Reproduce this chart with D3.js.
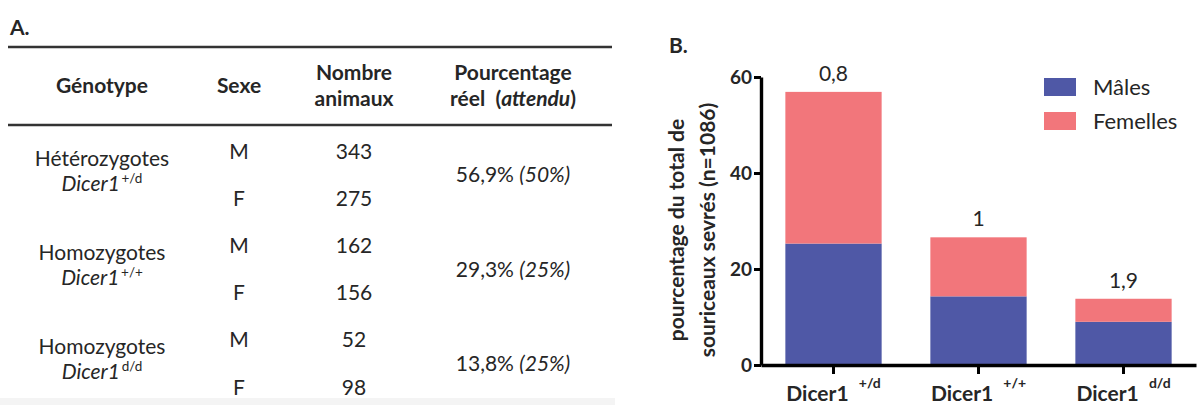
<!DOCTYPE html>
<html>
<head>
<meta charset="utf-8">
<script src="https://cdn.jsdelivr.net/npm/d3@7"></script>
<style>
  html, body { margin: 0; padding: 0; background: #fff; }
  svg { display: block; }
  text { font-family: Lato, "Open Sans", sans-serif; fill: #262626; }
</style>
</head>
<body>
<svg id="fig" width="1197" height="405"></svg>
<script>
// ---------- Data: table (panel A) ----------
const tableHeaders = ["Génotype", "Sexe", "Nombre|animaux", "Pourcentage|réel (attendu)"];
const genotypeNames = ["Hétérozygotes", "Homozygotes", "Homozygotes"];
const genotypeSup = ["+/d", "+/+", "d/d"];
const sexes = ["M", "F", "M", "F", "M", "F"];
const counts = [343, 275, 162, 156, 52, 98];
const observedPct = ["56,9%", "29,3%", "13,8%"];
const expectedPct = ["(50%)", "(25%)", "(25%)"];

// ---------- Data: chart (panel B) ----------
const categories = ["+/d", "+/+", "d/d"];
const males = [25.3, 14.3, 9.0];
const females = [31.6, 12.3, 4.8];
const ratioLabels = ["0,8", "1", "1,9"];
const yTicks = [0, 20, 40, 60];
const seriesNames = ["Mâles", "Femelles"];
const seriesColors = ["#4f58a6", "#f2767b"];

const svg = d3.select("#fig");

// =============== Panel A: table ===============
const A = svg.append("g");
A.append("text").attr("x", 10).attr("y", 35).attr("font-size", 21).attr("font-weight", 700).attr("fill", "#111").text("A.");

A.append("line").attr("x1", 8).attr("x2", 612).attr("y1", 47).attr("y2", 47)
  .attr("stroke", "#333").attr("stroke-width", 2.5);
A.append("line").attr("x1", 8).attr("x2", 612).attr("y1", 125).attr("y2", 125)
  .attr("stroke", "#333").attr("stroke-width", 2.5);

const colX = d3.scaleOrdinal().domain(d3.range(4)).range([102, 239, 354, 513]);
const fs = 21;

// headers
tableHeaders.forEach((h, i) => {
  const parts = h.split("|");
  const t = A.append("text").attr("x", colX(i)).attr("text-anchor", "middle")
    .attr("font-size", fs).attr("font-weight", 700).attr("fill", "#111");
  if (parts.length === 1) {
    t.attr("y", 93).text(parts[0]);
  } else {
    t.append("tspan").attr("x", colX(i)).attr("y", 80).text(parts[0]);
    if (parts[1].includes("(attendu)")) {
      t.append("tspan").attr("x", colX(i)).attr("y", 106).text("réel\u00a0\u00a0(");
      t.append("tspan").attr("font-style", "italic").text("attendu");
      t.append("tspan").text(")");
    } else {
      t.append("tspan").attr("x", colX(i)).attr("y", 106).text(parts[1]);
    }
  }
});

// rows
const rowY = d3.scalePoint().domain(d3.range(sexes.length)).range([151, 387]);
sexes.forEach((s, i) => {
  A.append("text").attr("x", colX(1)).attr("y", rowY(i)).attr("dy", "0.36em")
    .attr("text-anchor", "middle").attr("font-size", fs).text(s);
  A.append("text").attr("x", colX(2)).attr("y", rowY(i)).attr("dy", "0.36em")
    .attr("text-anchor", "middle").attr("font-size", fs).text(counts[i]);
});

genotypeNames.forEach((g, k) => {
  const cy = (rowY(2 * k) + rowY(2 * k + 1)) / 2;
  A.append("text").attr("x", colX(0)).attr("y", cy - 9).attr("text-anchor", "middle")
    .attr("font-size", fs).text(g);
  const t = A.append("text").attr("x", colX(0)).attr("y", cy + 16).attr("text-anchor", "middle")
    .attr("font-size", fs);
  t.append("tspan").attr("font-style", "italic").text("Dicer1");
  t.append("tspan").attr("dy", -8).attr("font-size", 13.5).text("\u2009" + genotypeSup[k]);
  const p = A.append("text").attr("x", colX(3)).attr("y", cy).attr("dy", "0.36em")
    .attr("text-anchor", "middle").attr("font-size", fs);
  p.append("tspan").text(observedPct[k] + " ");
  p.append("tspan").attr("font-style", "italic").text(expectedPct[k]);
});

// faint bottom band
A.append("rect").attr("x", 0).attr("y", 398).attr("width", 615).attr("height", 7).attr("fill", "#f4f4f4");

// =============== Panel B: chart ===============
const B = svg.append("g");
B.append("text").attr("x", 669).attr("y", 53).attr("font-size", 21).attr("font-weight", 700).attr("fill", "#111").text("B.");

const x = d3.scaleBand().domain(categories).range([761, 1196]).paddingInner(0.336).paddingOuter(0.168);
const y = d3.scaleLinear().domain([0, 60]).range([365, 77]);
const color = d3.scaleOrdinal().domain(seriesNames).range(seriesColors);

const stackData = categories.map((c, i) => ({ cat: c, "Mâles": males[i], "Femelles": females[i] }));
const series = d3.stack().keys(seriesNames)(stackData);

B.append("g").selectAll("g").data(series).join("g")
  .attr("fill", d => color(d.key))
  .selectAll("rect").data(d => d).join("rect")
  .attr("x", d => x(d.data.cat))
  .attr("width", x.bandwidth())
  .attr("y", d => y(d[1]))
  .attr("height", d => y(d[0]) - y(d[1]));

// ratio labels above bars
B.append("g").selectAll("text").data(categories).join("text")
  .attr("x", d => x(d) + x.bandwidth() / 2)
  .attr("y", (d, i) => y(males[i] + females[i]) - 11)
  .attr("text-anchor", "middle").attr("font-size", 21).attr("fill", "#111")
  .text((d, i) => ratioLabels[i]);

// y axis
const yAxis = B.append("g").attr("transform", "translate(761,0)")
  .call(d3.axisLeft(y).tickValues(yTicks).tickSize(7).tickSizeOuter(0).tickPadding(2));
yAxis.select(".domain").attr("stroke", "#000").attr("stroke-width", 3.4);
yAxis.selectAll(".tick line").attr("stroke", "#000").attr("stroke-width", 3);
yAxis.selectAll(".tick text").attr("font-family", "'Liberation Sans', Arial, sans-serif")
  .attr("font-weight", 700).attr("font-size", 19).attr("fill", "#111");

// x axis
const xAxis = B.append("g").attr("transform", "translate(0,365)")
  .call(d3.axisBottom(x).tickSize(9).tickSizeOuter(0).tickFormat(""));
xAxis.select(".domain").attr("stroke", "#000").attr("stroke-width", 3.4);
xAxis.selectAll(".tick line").attr("stroke", "#000").attr("stroke-width", 3);
xAxis.selectAll(".tick").each(function(d) {
  const t = d3.select(this).append("text").attr("y", 36).attr("text-anchor", "middle")
    .attr("font-size", 21).attr("font-weight", 700).attr("fill", "#111");
  t.append("tspan").text("Dicer1\u00a0\u00a0");
  t.append("tspan").attr("dy", -13).attr("font-size", 14).text(d);
});

// y axis title
const yt = B.append("text").attr("transform", "translate(678,230) rotate(-90)")
  .attr("text-anchor", "middle").attr("font-size", 21).attr("font-weight", 700).attr("fill", "#111");
yt.append("tspan").attr("x", 0).attr("y", 6).text("pourcentage du total de");
yt.append("tspan").attr("x", 0).attr("y", 37).text("souriceaux sevrés (n=1086)");

// legend
const lg = B.append("g");
seriesNames.forEach((n, i) => {
  const ly = 78 + i * 34;
  lg.append("rect").attr("x", 1044).attr("y", ly).attr("width", 32).attr("height", 18).attr("fill", color(n));
  lg.append("text").attr("x", 1093).attr("y", ly + 9).attr("dy", "0.36em").attr("font-size", 22).attr("fill", "#222").text(n);
});
</script>
</body>
</html>
